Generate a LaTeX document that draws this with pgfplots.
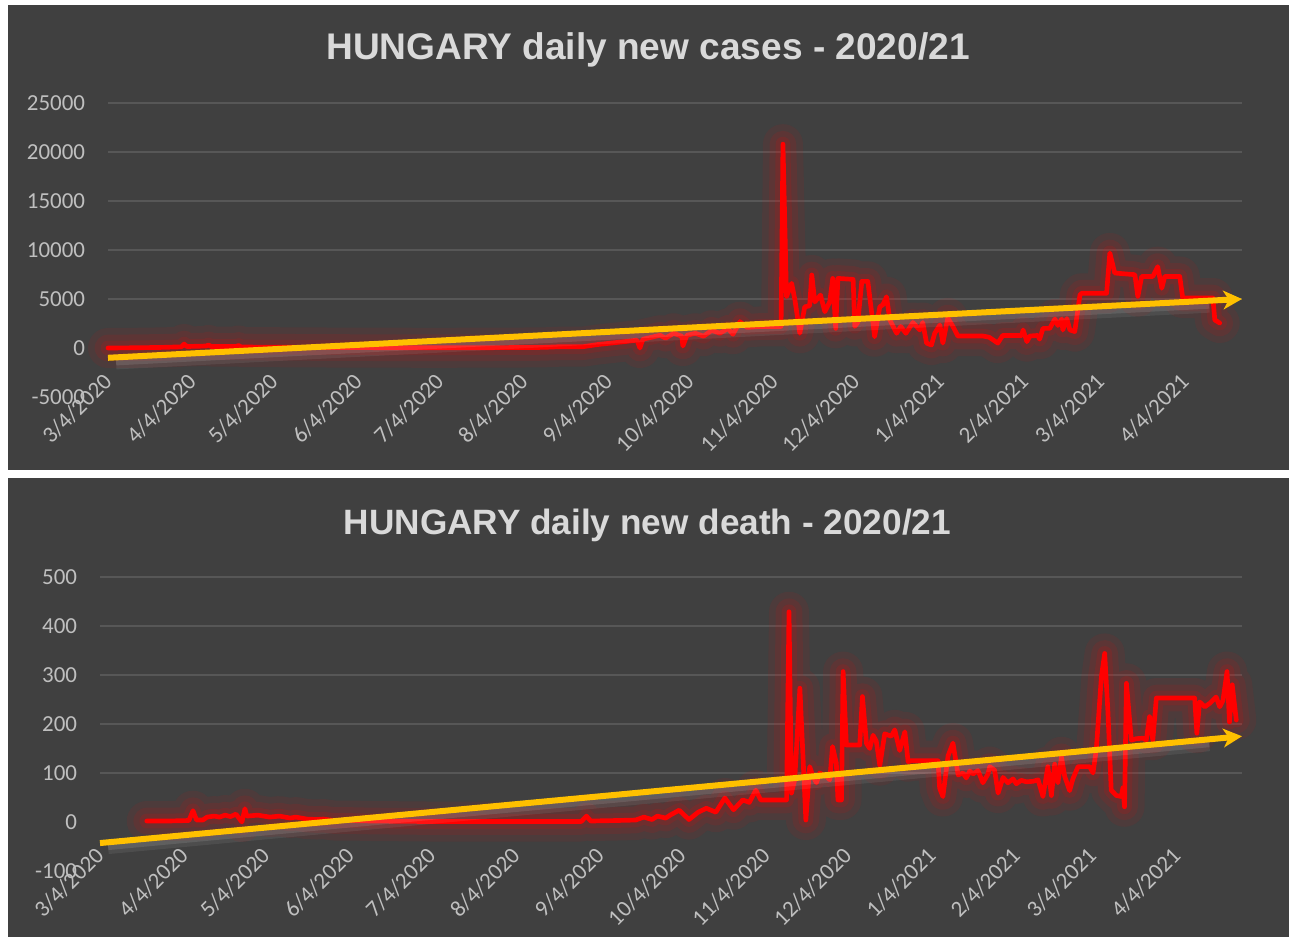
\documentclass[border=0pt]{standalone}
\usepackage{fontspec}
\setmainfont{Carlito}
\newfontfamily\titlefont{Liberation Sans}
\usepackage{pgfplots}
\usepackage{pgfplotstable}
\pgfplotsset{compat=1.18}
\usetikzlibrary{arrows.meta}
\definecolor{bg}{HTML}{404040}
\definecolor{gridc}{HTML}{575757}
\definecolor{tickc}{HTML}{BFBFBF}
\definecolor{titlec}{HTML}{D9D9D9}
\definecolor{trend}{HTML}{FFC000}

\pgfplotstableread{
day val
0 0
10 20
20 60
27 120
28 400
29 150
36 200
37 300
38 150
47 150
48 250
49 100
60 80
80 50
100 30
120 20
140 30
160 60
166 130
174.6 130
180 350
185 500
190 650
194.5 800
195.6 0
196.7 900
200 1100
203 1300
205 1000
208 1500
211 1200
211.4 200
212.9 1300
216 1500
219 1200
222 1800
225 1500
228 2000
229.8 1400
232.4 2680
235 2100
240 2200
245 2200
247.5 2200
248.2 20800
249.5 5240
251.4 6600
252.6 4900
254.4 1500
256.2 4200
258 4300
258.8 7450
259.9 4700
262 5400
263.6 3700
265.4 4700
266.5 7100
267.6 2000
268.4 7100
274 7000
274.6 2200
275.7 2600
277.2 6800
279.4 6800
281.9 1150
283.8 4200
284.9 4400
286.3 5230
287.5 2860
290 1500
291.5 2200
293.4 1500
296 2600
298.5 1840
299.6 2600
301 500
302.8 300
304 1500
305.9 2350
307 500
308.8 3060
310.7 2200
312.5 1220
321.7 1220
324 1100
327.2 500
329 1280
336 1280
336.5 1840
337.9 650
339 1220
341.9 1280
342.6 900
343.8 2000
346.3 2000
348.2 2960
349.3 2300
350.7 2960
351.1 1840
352.6 3000
353.7 1840
355.5 1670
357.4 5400
358 5580
367.2 5580
368.4 9700
370.2 7650
377.6 7480
378.7 5240
380.1 7300
384.2 7300
386 8300
387.5 6100
388.6 7300
394.1 7300
395.2 5100
406.3 5100
407 2860
408.8 2550
}\cases

\pgfplotstableread{
day val
17.2 2
25 2
32.7 3
34.2 23
35.5 4
37.8 4
39.4 10
42 12
44 10
46 14
48 11
50 16
52.2 0
53.3 27
54 12
58 14
62.4 10
66 12
70 8
72 10
76 6
80 5
82 6
86 3
92 3
100 2
120 1
150 1
170 1
177 1
178.9 12
180.5 2
190 3
197 4
200 10
203 5
205 12
208 8
210 15
213 24
216.6 5
220 20
223 28
226.5 20
229.8 49
233 25
236.4 45
238.8 40
241.2 65
243 45
252.5 45
253.4 429
254.3 59
255.5 86
257.4 273
259.6 4
261 113
262.2 93
263.5 80
264.7 100
267.2 93
268.4 86
269.4 154
270.8 120
271.4 45
272.7 45
273.3 307
274.5 157
279.4 157
280.4 256
281.9 160
283.1 150
284.3 177
285.5 165
286.8 115
288.6 180
291 175
292.3 188
294.1 146
296 184
297.2 123
298.4 125
308.2 125
308.8 69
310 52
311.9 135
313.7 161
315.6 96
317.4 100
318.6 90
319.9 104
321.1 98
322.9 105
324.7 80
326.6 98
327.2 113
329 106
330.3 59
332.1 91
333.9 80
335.8 88
337 78
338.8 85
340.7 82
343.1 83
345 86
346.8 52
348.6 113
349.9 54
351.1 118
352.3 80
353.6 133
354.8 93
356.6 64
357.8 88
359.7 113
364 113
365.2 100
366.4 147
368.3 297
369.5 344
370.7 224
371.9 65
373.8 54
375.6 52
376.2 70
376.8 31
377.5 283
379.3 167
381.1 170
383.6 171
384.8 167
386 215
387.2 167
388.5 253
402.6 253
403.4 181
404.4 245
406.3 235
408.1 242
410.5 255
411.8 235
413 248
414.5 307
415.4 204
416.4 280
417.9 208
}\deaths

\pgfplotsset{
  hun/.style={
    scale only axis,
    anchor=south west,
    axis line style={draw=none},
    major tick length=0pt,
    clip=false,
    xmin=0,
    scaled y ticks=false,
    xtick={0,31,61,92,122,153,184,214,245,275,306,337,365,396},
    xticklabels={3/4/2020,4/4/2020,5/4/2020,6/4/2020,7/4/2020,8/4/2020,9/4/2020,10/4/2020,11/4/2020,12/4/2020,1/4/2021,2/4/2021,3/4/2021,4/4/2021},
    xticklabel style={font=\fontsize{17.2}{18}\selectfont, text=tickc, rotate=45, anchor=east, inner sep=0pt},
    xticklabel shift=-14.5pt,
    yticklabel style={font=\fontsize{17.2}{18}\selectfont, text=tickc, anchor=east, inner sep=0pt},
    yticklabel shift=17pt,
    /pgf/number format/assume math mode=true,
    /pgf/number format/1000 sep={},
    ymajorgrids,
    grid style={gridc, line width=1.1pt},
    extra y tick style={grid=none},
  },
  glow1/.style={red, line width=30pt, opacity=0.07, line join=round, line cap=round},
  glow2/.style={red, line width=20pt, opacity=0.09, line join=round, line cap=round},
  glow3/.style={red, line width=11pt, opacity=0.12, line join=round, line cap=round},
  mainline/.style={color=red, line width=3.5pt, line join=round, line cap=round},
  shadow1/.style={white, opacity=0.07, line width=9pt, yshift=-4.5pt},
  shadow2/.style={white, opacity=0.10, line width=5pt, yshift=-3.5pt},
  trendline/.style={trend, line width=4.5pt, -{Stealth[length=14pt, width=14pt, inset=4pt]}},
}

\begin{document}
\begin{tikzpicture}
\fill[white] (0pt,0pt) rectangle (966.75pt,702.75pt);
\fill[bg] (6pt,350.25pt) rectangle (966.75pt,699pt);
\fill[bg] (6pt,0pt) rectangle (966.75pt,344.25pt);

\node[font=\titlefont\bfseries\fontsize{27.8}{30}\selectfont, text=titlec, anchor=base] at (486pt,657.75pt) {HUNGARY daily new cases - 2020/21};
\node[font=\titlefont\bfseries\fontsize{26.4}{29}\selectfont, text=titlec, anchor=base] at (485.6pt,301.5pt) {HUNGARY daily new death - 2020/21};

\begin{axis}[hun, at={(81pt,405pt)}, width=850.5pt, height=220.5pt,
  xmax=417, ymin=-5000, ymax=25000,
  ytick={5000,10000,15000,20000,25000}, extra y ticks={-5000,0}]
  \addplot[glow1] table[x=day,y=val] {\cases};
  \addplot[glow2] table[x=day,y=val] {\cases};
  \addplot[glow3] table[x=day,y=val] {\cases};
  \addplot[mainline] table[x=day,y=val] {\cases};
  \addplot[shadow1] coordinates {(3,-960) (405,4830)};
  \addplot[shadow2] coordinates {(3,-960) (405,4830)};
  \addplot[trendline] coordinates {(0,-1000) (417,5000)};
\end{axis}

\begin{axis}[hun, at={(75pt,49.5pt)}, width=856.5pt, height=220.5pt,
  xmax=420, ymin=-100, ymax=500,
  ytick={100,200,300,400,500}, extra y ticks={-100,0}]
  \addplot[glow1] table[x=day,y=val] {\deaths};
  \addplot[glow2] table[x=day,y=val] {\deaths};
  \addplot[glow3] table[x=day,y=val] {\deaths};
  \addplot[mainline] table[x=day,y=val] {\deaths};
  \addplot[shadow1] coordinates {(3,-41) (408,169)};
  \addplot[shadow2] coordinates {(3,-41) (408,169)};
  \addplot[trendline] coordinates {(0,-43) (420,175)};
\end{axis}
\end{tikzpicture}
\end{document}
